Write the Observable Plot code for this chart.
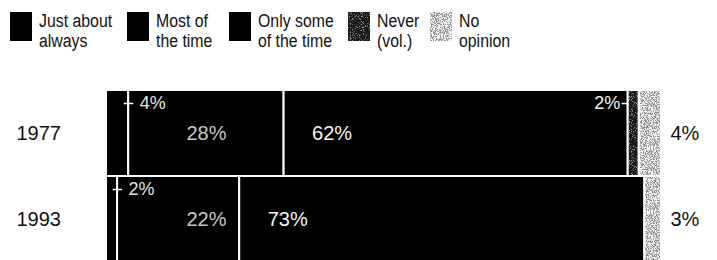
<!DOCTYPE html>
<html><head><meta charset="utf-8">
<script src="https://cdn.jsdelivr.net/npm/d3@7"></script>
<script src="https://cdn.jsdelivr.net/npm/@observablehq/plot@0.6"></script>
<style>
html,body{margin:0;padding:0;background:#fff;overflow:hidden;width:717px;height:260px}
body{font-family:"Liberation Sans",Arial,Helvetica,sans-serif;color:#111}
#legend{position:relative;height:60px;width:717px}
.item{position:absolute;top:0;display:flex;align-items:flex-start}
.item svg{margin-top:12px;margin-right:7px;flex:none}
.lab{font-size:18px;line-height:20px;margin-top:11px;white-space:nowrap;transform:scaleX(0.88);transform-origin:0 0}
#chart svg{display:block}
</style>
</head><body>
<svg width="0" height="0" style="position:absolute">
<defs>
<filter id="noiseLight" x="0" y="0" width="1" height="1" filterUnits="objectBoundingBox" color-interpolation-filters="sRGB">
 <feTurbulence type="fractalNoise" baseFrequency="1.1" numOctaves="1" seed="3" result="n"/>
 <feColorMatrix in="n" type="matrix" values="0 0 0 0 0.55  0 0 0 0 0.55  0 0 0 0 0.55  -8 0 0 0 4.4" result="dots"/>
 <feFlood flood-color="#f8f8f8" result="w"/>
 <feMerge><feMergeNode in="w"/><feMergeNode in="dots"/></feMerge>
</filter>
<filter id="noiseDark" x="0" y="0" width="1" height="1" filterUnits="objectBoundingBox" color-interpolation-filters="sRGB">
 <feTurbulence type="fractalNoise" baseFrequency="1.1" numOctaves="1" seed="7" result="n"/>
 <feColorMatrix in="n" type="matrix" values="0 0 0 0 0.6  0 0 0 0 0.6  0 0 0 0 0.6  9 0 0 0 -5.0" result="dots"/>
 <feFlood flood-color="#1a1a1a" result="w"/>
 <feMerge><feMergeNode in="w"/><feMergeNode in="dots"/></feMerge>
</filter>
<pattern id="patLight" patternUnits="userSpaceOnUse" width="64" height="64"><rect width="64" height="64" fill="#000" filter="url(#noiseLight)"/></pattern>
<pattern id="patDark" patternUnits="userSpaceOnUse" width="64" height="64"><rect width="64" height="64" fill="#000" filter="url(#noiseDark)"/></pattern>
</defs></svg>
<div id="legend"></div>
<div id="chart"></div>
<script>
const years = ["1977", "1993"];
const categories = ["Just about always", "Most of the time", "Only some of the time", "Never (vol.)", "No opinion"];
const legendLines = [["Just about", "always"], ["Most of", "the time"], ["Only some", "of the time"], ["Never", "(vol.)"], ["No", "opinion"]];
const values1977 = [4, 28, 62, 2, 4];
const values1993 = [2, 22, 73, 0, 3];

// styles
const fills = ["#000", "#000", "#000", "url(#patDark)", "url(#patLight)"];
const legendLeft = [10, 127, 229, 348, 430];

const rows = [];
[[years[0], values1977], [years[1], values1993]].forEach(([year, vals]) => {
  let acc = 0;
  vals.forEach((v, i) => {
    rows.push({year, cat: categories[i], idx: i, value: v, x1: acc, x2: acc + v, label: v + "%"});
    acc += v;
  });
});
const shown = rows.filter(d => d.value > 0);
const byIdx = i => shown.filter(d => d.idx === i);
// "Most of the time" labels share one column, at the widest segment's middle
const mostCol = d3.max(byIdx(1), d => (d.x1 + d.x2) / 2);

// legend
const legend = d3.select("#legend");
categories.forEach((c, i) => {
  const it = legend.append("div").attr("class", "item").style("left", legendLeft[i] + "px");
  const s = it.append("svg").attr("width", 22).attr("height", 29);
  s.append("rect").attr("width", 22).attr("height", 29).attr("fill", fills[i]);
  it.append("div").attr("class", "lab").html(legendLines[i].join("<br>"));
});

const chart = Plot.plot({
  width: 717,
  height: 204,
  marginLeft: 106,
  marginRight: 56,
  marginTop: 30,
  marginBottom: 2,
  style: {fontFamily: "'Liberation Sans', Arial, sans-serif", background: "#fff"},
  x: {domain: [0, 100], axis: null},
  y: {domain: years, axis: null, padding: 0},
  color: {domain: categories, range: fills},
  marks: [
    Plot.barX(shown, {x1: "x1", x2: "x2", y: "year", fill: "cat", stroke: "white", strokeWidth: 2}),
    // leaders
    Plot.ruleY(byIdx(0), {y: "year", x1: d => d.x2 - 0.8, x2: d => d.x2 + 0.9, dy: -30, stroke: "white", strokeWidth: 1.5}),
    Plot.ruleY(byIdx(3), {y: "year", x1: d => d.x1 - 1.1, x2: d => d.x1 + 0.1, dy: -30, stroke: "white", strokeWidth: 1.5}),
    // labels
    Plot.text(byIdx(0), {x: "x2", y: "year", text: "label", textAnchor: "start", dx: 11, dy: -30, fill: "#e4e4e4", fontSize: 18}),
    Plot.text(byIdx(1), {x: mostCol, y: "year", text: "label", fill: "#c8c8c8", fontSize: 20}),
    Plot.text(byIdx(2), {x: "x1", y: "year", text: "label", textAnchor: "start", dx: 28, fill: "#f4f4f4", fontSize: 20}),
    Plot.text(byIdx(3), {x: "x1", y: "year", text: "label", textAnchor: "end", dx: -8, dy: -30, fill: "#f4f4f4", fontSize: 18}),
    Plot.text(byIdx(4), {x: 100, y: "year", text: "label", textAnchor: "start", dx: 9, fill: "#111", fontSize: 20}),
    // year labels
    Plot.text(years, {y: d => d, frameAnchor: "left", dx: -90, textAnchor: "start", fill: "#111", fontSize: 20})
  ]
});
document.getElementById("chart").appendChild(chart);
</script>
</body></html>
